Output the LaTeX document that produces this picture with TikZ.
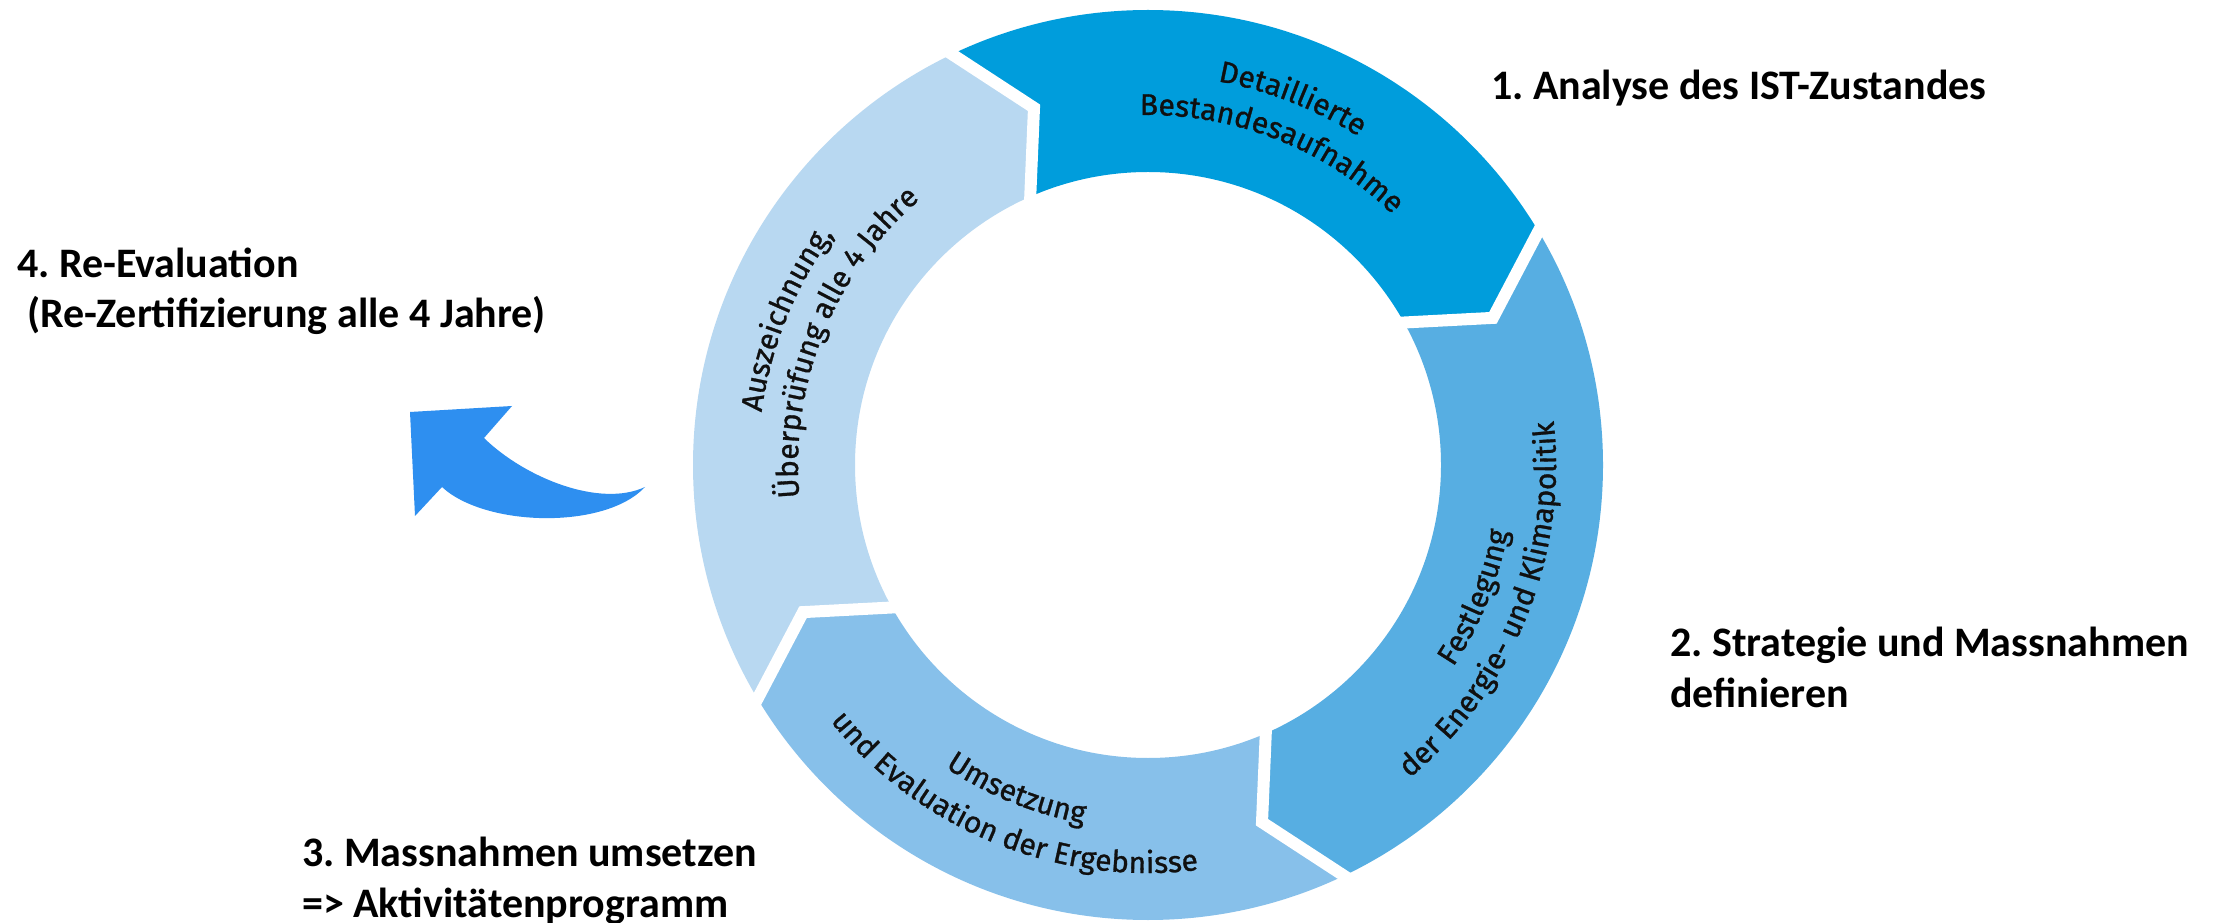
\documentclass[tikz,border=0pt]{standalone}
\usepackage{fontspec}
\newfontfamily\labelfont{Carlito}
\newfontfamily\ringfont{Fira Sans}[FakeBold=1.0]
\usetikzlibrary{decorations.text,calc}
\definecolor{segA}{HTML}{009DDC}
\definecolor{segB}{HTML}{57AEE2}
\definecolor{segC}{HTML}{87C0EA}
\definecolor{segD}{HTML}{B8D8F1}
\definecolor{arrowblue}{HTML}{2E8FF0}
\definecolor{ringink}{HTML}{101010}
\frenchspacing

\begin{document}
\begin{tikzpicture}[x=1pt,y=1pt,
  steplabel/.style={font=\labelfont\bfseries\fontsize{42}{51}\selectfont, inner sep=0pt, anchor=base west, text=black},
  gapline/.style={white, line width=12pt, line join=miter, line cap=butt},
  ringtext/.style={decorate, decoration={text along path, text align=center, text color=ringink}},
]
\useasboundingbox (0,0) rectangle (2227,922);
\fill[white] (0,0) rectangle (2227,922);

% ---------- cycle ring ----------
\begin{scope}[shift={(1148,457)}]
  % chevron-shaped separators: outer point, tip, inner point
  \foreach \n/\a in {TL/115.5, TR/30.9, BR/-64.5, BL/-149.1} {
    \coordinate (O\n) at (\a:455);
    \coordinate (T\n) at ({\a-7.8}:375);
    \coordinate (I\n) at ({\a-1.8}:293);
  }
  \begin{scope}[even odd rule]
    \clip (0,0) circle[radius=455] (0,0) circle[radius=293];
    \fill[segA] (0,0) -- (ITL) -- (TTL) -- (OTL) -- (115.5:600)
      arc[start angle=115.5, end angle=30.9, radius=600] -- (OTR) -- (TTR) -- (ITR) -- cycle;
    \fill[segB] (0,0) -- (ITR) -- (TTR) -- (OTR) -- (30.9:600)
      arc[start angle=30.9, end angle=-64.5, radius=600] -- (OBR) -- (TBR) -- (IBR) -- cycle;
    \fill[segC] (0,0) -- (IBR) -- (TBR) -- (OBR) -- (-64.5:600)
      arc[start angle=-64.5, end angle=-149.1, radius=600] -- (OBL) -- (TBL) -- (IBL) -- cycle;
    \fill[segD] (0,0) -- (IBL) -- (TBL) -- (OBL) -- (-149.1:600)
      arc[start angle=-149.1, end angle=-244.5, radius=600] -- (OTL) -- (TTL) -- (ITL) -- cycle;
  \end{scope}
  \foreach \n in {TL,TR,BR,BL}
    \draw[gapline] ($(T\n)!1.4!(O\n)$) -- (T\n) -- ($(T\n)!1.4!(I\n)$);

  % curved captions
  \path[ringtext, decoration={text={|\ringfont\fontsize{30}{36}\selectfont|Detaillierte}}]
    (128.5:390) arc[start angle=128.5, end angle=8.5, radius=390];
  \path[ringtext, decoration={text={|\ringfont\fontsize{30}{36}\selectfont|Bestandesaufnahme}}]
    (128.5:350) arc[start angle=128.5, end angle=8.5, radius=350];

  \path[ringtext, decoration={text={|\ringfont\fontsize{30}{36}\selectfont|Festlegung}}]
    (-82:366) arc[start angle=-82, end angle=38, radius=366];
  \path[ringtext, decoration={text={|\ringfont\fontsize{30}{36}\selectfont|der Energie- und Klimapolitik}}]
    (-82:408) arc[start angle=-82, end angle=38, radius=408];

  \path[ringtext, decoration={text={|\ringfont\fontsize{30}{36}\selectfont|Umsetzung}}]
    (-172:364) arc[start angle=-172, end angle=-52, radius=364];
  \path[ringtext, decoration={text={|\ringfont\fontsize{30}{36}\selectfont|und Evaluation der Ergebnisse}}]
    (-172:408) arc[start angle=-172, end angle=-52, radius=408];

  \path[ringtext, decoration={text={|\ringfont\fontsize{30}{36}\selectfont|Auszeichnung,}}]
    (218:390) arc[start angle=218, end angle=98, radius=390];
  \path[ringtext, decoration={text={|\ringfont\fontsize{30}{36}\selectfont|Überprüfung alle 4 Jahre}}]
    (218:350) arc[start angle=218, end angle=98, radius=350];
\end{scope}

% ---------- step labels ----------
\node[steplabel] (s1) at (1491,822) {1. Analyse des IST-Zustandes};
\node[steplabel] (s2a) at (1670,266) {2. Strategie und Massnahmen};
\node[steplabel] (s2b) at (1670,215) {definieren};
\node[steplabel] (s3a) at (302,56) {3. Massnahmen umsetzen};
\node[steplabel] (s3b) at (302,5) {=> Aktivitätenprogramm};
\node[steplabel] (s4a) at (17,644) {4. Re-Evaluation};
\node[steplabel] (s4b) at (27,594) {(Re-Zertifizierung alle 4 Jahre)};

% ---------- curved return arrow ----------
\fill[arrowblue] (410,510) -- (512,516) -- (484,484)
  .. controls (525,444) and (600,414) .. (645,435)
  .. controls (605,392) and (485,395) .. (442,435)
  -- (415,406) -- cycle;
\end{tikzpicture}
\end{document}
